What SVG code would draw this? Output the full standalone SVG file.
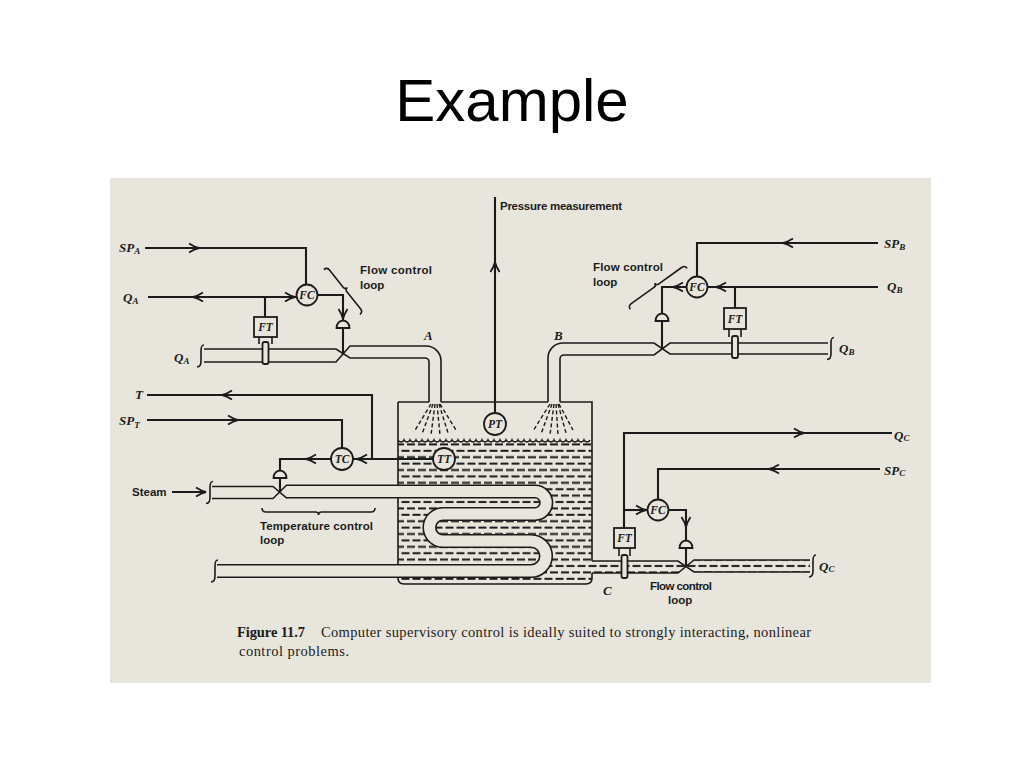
<svg xmlns="http://www.w3.org/2000/svg" xmlns:xlink="http://www.w3.org/1999/xlink" width="1024" height="768" viewBox="0 0 1024 768">
<style>
.ln{stroke:#1b1b1b;stroke-width:2.1;fill:none}
.pp{stroke:#1b1b1b;stroke-width:1.6;fill:none}
.spray{stroke:#1b1b1b;stroke-width:1.4;fill:none;stroke-dasharray:4 2.5}
.ins circle,.box rect{fill:#e8e6dc;stroke:#1b1b1b;stroke-width:1.8}
.ins text,.box text{font-family:"Liberation Serif",serif;font-style:italic;font-weight:bold;font-size:11.5px;text-anchor:middle;fill:#1b1b1b}
.tag{font-family:"Liberation Serif",serif;font-style:italic;font-weight:bold;font-size:13px;fill:#1b1b1b}
.sub{font-size:9px}
.note{font-family:"Liberation Sans",Arial,sans-serif;font-weight:bold;font-size:11.5px;fill:#1b1b1b}
.cap{font-family:"Liberation Serif","Times New Roman",serif;font-size:14.5px;fill:#1b1b1b}
.ah{fill:none;stroke:#1b1b1b;stroke-width:1.8;stroke-linejoin:miter}
.act{fill:#e8e6dc;stroke:#1b1b1b;stroke-width:1.8}
</style>
<defs>
<path id="ah" d="M-10,-4.5 Q-4.5,-1 0,0 Q-4.5,1 -10,4.5"/>
<path id="act" d="M-6.5,0 A6.5,7.5 0 0 1 6.5,0 Z"/>
<path id="pend" d="M3,-11 C0,-11 0,-8 0,-5 L0,5 C0,8 -1,11 -4,11"/>
<pattern id="liq" patternUnits="userSpaceOnUse" x="0" y="443" width="22" height="12.8">
<rect x="0" y="0.4" width="8" height="2" fill="#1b1b1b"/>
<rect x="11" y="0.4" width="8" height="2" fill="#1b1b1b"/>
<rect x="5.5" y="6.8" width="8" height="2" fill="#1b1b1b"/>
<rect x="16.5" y="6.8" width="5.5" height="2" fill="#1b1b1b"/>
<rect x="0" y="6.8" width="2.5" height="2" fill="#1b1b1b"/>
</pattern>
</defs>
<rect width="1024" height="768" fill="#ffffff"/>
<text x="512" y="121" font-family="Liberation Sans, Arial, sans-serif" font-size="60" text-anchor="middle" fill="#000">Example</text>
<rect x="110" y="178" width="821" height="505" fill="#e8e6dc"/>

<g id="tank">
<path d="M398,440 L592,440 L592,578 Q592,584 586,584 L404,584 Q398,584 398,578 Z" fill="url(#liq)"/>
<path d="M592,561 L678,561 L686,567 L678,573 L592,573 Z" fill="url(#liq)"/>
<path d="M686,567 L694,560 L810,560 L810,572 L694,572 Z" fill="url(#liq)"/>
<path class="pp" stroke-width="1.8" d="M398,402 L429,402 M441,402 L548,402 M560,402 L592,402 L592,561 M592,573 L592,578 Q592,584 586,584 L404,584 Q398,584 398,578 L398,402"/>
<path class="pp" stroke-width="1.4" d="M398,440 a3.2,3 0 0 0 6,0 a3.2,3 0 0 0 6,0 a3.2,3 0 0 0 6,0 a3.2,3 0 0 0 6,0 a3.2,3 0 0 0 6,0 a3.2,3 0 0 0 6,0 a3.2,3 0 0 0 6,0 a3.2,3 0 0 0 6,0 a3.2,3 0 0 0 6,0 a3.2,3 0 0 0 6,0 a3.2,3 0 0 0 6,0 a3.2,3 0 0 0 6,0 a3.2,3 0 0 0 6,0 a3.2,3 0 0 0 6,0 a3.2,3 0 0 0 6,0 a3.2,3 0 0 0 6,0 a3.2,3 0 0 0 6,0 a3.2,3 0 0 0 6,0 a3.2,3 0 0 0 6,0 a3.2,3 0 0 0 6,0 a3.2,3 0 0 0 6,0 a3.2,3 0 0 0 6,0 a3.2,3 0 0 0 6,0 a3.2,3 0 0 0 6,0 a3.2,3 0 0 0 6,0 a3.2,3 0 0 0 6,0 a3.2,3 0 0 0 6,0 a3.2,3 0 0 0 6,0 a3.2,3 0 0 0 6,0 a3.2,3 0 0 0 6,0 a3.2,3 0 0 0 6,0 a3.2,3 0 0 0 6,0"/>
<g id="spray-a">
<path class="spray" d="M431,404 L414,432 M433,404 L422,434 M435,404 L431,435 M437,404 L440,435 M439,404 L448,433 M440,404 L456,430"/>
</g>
<g id="spray-b">
<path class="spray" d="M550,404 L533,431 M552,404 L541,434 M554,404 L550,435 M556,404 L558,435 M558,404 L566,433 M559,404 L573,430"/>
</g>
</g>

<g id="pipes">
<path d="M287,491.5 L535,491.5 A11.25,11.25 0 0 1 535,514 L443,514 A13.5,13.5 0 0 0 443,541 L531,541 A15,15 0 0 1 531,571 L217,571" fill="none" stroke="#1b1b1b" stroke-width="14.2"/>
<path d="M287,491.5 L535,491.5 A11.25,11.25 0 0 1 535,514 L443,514 A13.5,13.5 0 0 0 443,541 L531,541 A15,15 0 0 1 531,571 L217,571" fill="none" stroke="#e8e6dc" stroke-width="11"/>
<path class="pp" d="M212,486.5 L273,486.5 L287,498.3 M212,498.5 L273,498.5 L287,484.7"/>
<path class="pp" d="M204,349 L336,349 L350,358 L425,358 A4,4 0 0 1 429,362 L429,402 M204,362 L336,362 L350,346 L426,346 A15,15 0 0 1 441,361 L441,402"/>
<path class="pp" d="M828,343 L670,343 L654,355 L564,355 A4,4 0 0 0 560,359 L560,402 M828,354 L670,354 L654,343 L563,343 A15,15 0 0 0 548,358 L548,402"/>
<path class="pp" d="M592,561 L678,561 L694,572 L810,572 M592,573 L678,573 L694,560 L810,560"/>
<use href="#pend" class="pp" transform="translate(201,356)"/>
<use href="#pend" class="pp" transform="translate(210,492.5)"/>
<use href="#pend" class="pp" transform="translate(215,571)"/>
<use href="#pend" class="pp" transform="translate(831,348.5)"/>
<use href="#pend" class="pp" transform="translate(813,566)"/>
</g>

<g id="connectors">
<path class="ln" d="M145,248 L306,248 L306,284.5"/>
<use href="#ah" class="ah" transform="translate(199,248)"/>
<path class="ln" d="M148,297 L296.5,297"/>
<use href="#ah" class="ah" transform="translate(193,297) rotate(180)"/>
<use href="#ah" class="ah" transform="translate(295,297)"/>
<path class="ln" d="M265,297 L265,317"/>
<path class="ln" d="M317.5,295 L343,295 L343,320"/>
<use href="#ah" class="ah" transform="translate(343,319) rotate(90)"/>
<path class="ln" d="M343,328 L343,355"/>

<path class="ln" d="M878,243 L697,243 L697,276.5"/>
<use href="#ah" class="ah" transform="translate(783,243) rotate(180)"/>
<path class="ln" d="M878,287 L707.5,287"/>
<use href="#ah" class="ah" transform="translate(716,287) rotate(180)"/>
<path class="ln" d="M735,287 L735,308"/>
<path class="ln" d="M686.5,287 L662,287 L662,313"/>
<use href="#ah" class="ah" transform="translate(673,287) rotate(180)"/>
<path class="ln" d="M662,321 L662,349"/>

<path class="ln" d="M495,413 L495,197"/>
<use href="#ah" class="ah" transform="translate(495,262) rotate(-90)"/>

<path class="ln" d="M433,459 L353,459"/>
<use href="#ah" class="ah" transform="translate(357,459) rotate(180)"/>
<path class="ln" d="M372,459 L372,395 L147,395"/>
<use href="#ah" class="ah" transform="translate(222,395) rotate(180)"/>
<path class="ln" d="M147,420 L342,420 L342,448"/>
<use href="#ah" class="ah" transform="translate(238,420)"/>
<path class="ln" d="M331,459 L280,459 L280,470"/>
<use href="#ah" class="ah" transform="translate(306,459) rotate(180)"/>
<path class="ln" d="M280,478 L280,492"/>
<path class="ln" d="M172,492 L206,492"/>
<use href="#ah" class="ah" transform="translate(206,492)"/>

<path class="ln" d="M624,528 L624,433 L892,433"/>
<use href="#ah" class="ah" transform="translate(804,433)"/>
<path class="ln" d="M624,510 L647.5,510"/>
<use href="#ah" class="ah" transform="translate(646,510)"/>
<path class="ln" d="M880,469 L658,469 L658,499.5"/>
<use href="#ah" class="ah" transform="translate(769,469) rotate(180)"/>
<path class="ln" d="M668.5,510 L686,510 L686,540"/>
<use href="#ah" class="ah" transform="translate(686,527) rotate(90)"/>
<path class="ln" d="M686,548 L686,567"/>
</g>

<g id="valve-a"><use href="#act" class="act" transform="translate(343,328)"/></g>
<g id="valve-b"><use href="#act" class="act" transform="translate(662,321)"/></g>
<g id="valve-t"><use href="#act" class="act" transform="translate(280,478)"/></g>
<g id="valve-c"><use href="#act" class="act" transform="translate(686,548)"/></g>

<g id="fc-a" class="ins"><circle cx="307" cy="295" r="10.5"/><text x="307" y="299">FC</text></g>
<g id="fc-b" class="ins"><circle cx="697" cy="287" r="10.5"/><text x="697" y="291">FC</text></g>
<g id="fc-c" class="ins"><circle cx="658" cy="510" r="10.5"/><text x="658" y="514">FC</text></g>
<g id="tc" class="ins"><circle cx="342" cy="459" r="11"/><text x="342" y="463">TC</text></g>
<g id="tt" class="ins"><circle cx="444" cy="459" r="11"/><text x="444" y="463">TT</text></g>
<g id="pt" class="ins"><circle cx="495" cy="424" r="11"/><text x="495" y="428">PT</text></g>

<g id="ft-a" class="box">
<path class="pp" d="M259,337 L259,344 M272,337 L272,344"/>
<rect x="254" y="317" width="23" height="20"/><text x="265.5" y="331" font-size="12.5">FT</text>
<rect x="262.5" y="342" width="6" height="22" rx="2"/>
</g>
<g id="ft-b" class="box">
<path class="pp" d="M729,329 L729,337 M741,329 L741,337"/>
<rect x="724" y="308" width="22" height="21"/><text x="735" y="323" font-size="12.5">FT</text>
<rect x="732" y="336" width="6" height="22" rx="2"/>
</g>
<g id="ft-c" class="box">
<path class="pp" d="M619,548 L619,556 M630,548 L630,556"/>
<rect x="614" y="528" width="21" height="20"/><text x="624.5" y="542" font-size="12.5">FT</text>
<rect x="621.5" y="555" width="6" height="23" rx="2"/>
</g>

<g id="labels">
<text class="tag" x="119" y="252">SP<tspan class="sub" dy="2">A</tspan></text>
<text class="tag" x="123" y="302">Q<tspan class="sub" dy="2">A</tspan></text>
<text class="tag" x="174" y="362">Q<tspan class="sub" dy="2">A</tspan></text>
<text class="tag" x="135" y="399">T</text>
<text class="tag" x="119" y="425">SP<tspan class="sub" dy="3">T</tspan></text>
<text class="note" x="132" y="496">Steam</text>
<text class="tag" x="884" y="248">SP<tspan class="sub" dy="2">B</tspan></text>
<text class="tag" x="887" y="291">Q<tspan class="sub" dy="2">B</tspan></text>
<text class="tag" x="839" y="353">Q<tspan class="sub" dy="2">B</tspan></text>
<text class="tag" x="894" y="440">Q<tspan class="sub" dy="1">C</tspan></text>
<text class="tag" x="884" y="475">SP<tspan class="sub" dy="1">C</tspan></text>
<text class="tag" x="819" y="571">Q<tspan class="sub" dy="1">C</tspan></text>
<text class="tag" x="424" y="340">A</text>
<text class="tag" x="554" y="340">B</text>
<text class="tag" x="603" y="595">C</text>
<text class="note" x="500" y="210" font-size="10.5" textLength="122">Pressure measurement</text>
<text class="note" x="360" y="274" textLength="72">Flow control</text>
<text class="note" x="360" y="289">loop</text>
<text class="note" x="593" y="271" textLength="70">Flow control</text>
<text class="note" x="593" y="286">loop</text>
<text class="note" x="650" y="590" textLength="62">Flow control</text>
<text class="note" x="668" y="604">loop</text>
<text class="note" x="260" y="530" textLength="113">Temperature control</text>
<text class="note" x="260" y="544">loop</text>
<path class="pp" stroke-width="1.8" transform="translate(327,267) rotate(51.3)" d="M0,4 Q0,0 4,0 L25.8,0 Q28.8,0 28.8,-3 Q28.8,0 31.8,0 L53.6,0 Q57.6,0 57.6,4"/>
<path class="pp" stroke-width="1.8" transform="translate(628,306) rotate(-35.7)" d="M0,4 Q0,0 4,0 L32,0 Q35,0 35,-3 Q35,0 38,0 L66,0 Q70,0 70,4"/>
<path class="pp" stroke-width="1.8" transform="translate(375,512) rotate(180)" d="M0,4 Q0,0 4,0 L53.5,0 Q56.5,0 56.5,-3 Q56.5,0 59.5,0 L109,0 Q113,0 113,4"/>
</g>

<g id="caption">
<text class="cap" x="237" y="637" font-weight="bold" textLength="68">Figure 11.7</text>
<text class="cap" x="321" y="637" textLength="490">Computer supervisory control is ideally suited to strongly interacting, nonlinear</text>
<text class="cap" x="239" y="656" textLength="110">control problems.</text>
</g>
</svg>
